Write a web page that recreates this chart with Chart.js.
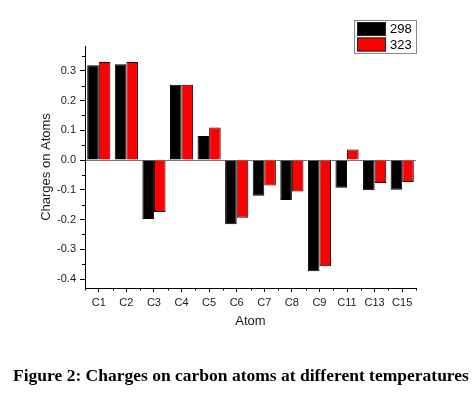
<!DOCTYPE html>
<html>
<head>
<meta charset="utf-8">
<script src="https://cdn.jsdelivr.net/npm/chart.js@4.4.1/dist/chart.umd.min.js"></script>
<style>
  body { margin: 0; background: #fff; }
  #wrap { position: relative; width: 473px; height: 397px; }
  #caption {
    position: absolute; left: 13px; top: 364px;
    font: bold 17.5px "Liberation Serif", "Times New Roman", serif;
    line-height: 22px; white-space: nowrap; color: #000;
  }
</style>
</head>
<body>
<div id="wrap">
  <canvas id="chart" width="473" height="397"></canvas>
  <div id="caption">Figure 2: Charges on carbon atoms at different temperatures</div>
</div>
<script>
const atoms = ["C1","C2","C3","C4","C5","C6","C7","C8","C9","C11","C13","C15"];
const temps = ["298", "323"];
const charges298 = [0.318, 0.322, -0.198, 0.253, 0.081, -0.216, -0.120, -0.134, -0.374, -0.093, -0.102, -0.100];
const charges323 = [0.329, 0.329, -0.175, 0.253, 0.109, -0.194, -0.086, -0.106, -0.357, 0.035, -0.077, -0.074];
const yTicks = [-0.4, -0.3, -0.2, -0.1, 0.0, 0.1, 0.2, 0.3];
const yMinorTicks = [-0.35, -0.25, -0.15, -0.05, 0.05, 0.15, 0.25, 0.35];

const FONT = "'Liberation Sans', Arial, sans-serif";

// minor ticks + boxed legend, drawn after the chart
const extras = {
  id: "extras",
  afterDraw(chart) {
    const ctx = chart.ctx;
    const { x, y } = chart.scales;
    const area = chart.chartArea;
    ctx.save();
    ctx.strokeStyle = "#000";
    ctx.lineWidth = 1;
    ctx.beginPath();
    yMinorTicks.forEach(v => {
      const py = Math.round(y.getPixelForValue(v)) + 0.5;
      ctx.moveTo(area.left - 3, py);
      ctx.lineTo(area.left, py);
    });
    for (let i = 0; i <= atoms.length; i++) {
      const px = Math.round(x.getPixelForValue(i - 0.5)) + 0.5;
      ctx.moveTo(px, area.bottom);
      ctx.lineTo(px, area.bottom + 2.5);
    }
    ctx.stroke();

    // legend
    const right = area.right;
    const left = right - 62;
    const top = 20;
    ctx.strokeStyle = "#888";
    ctx.strokeRect(left + 0.5, top + 0.5, 62, 33);
    chart.data.datasets.forEach((ds, i) => {
      const sy = top + 2 + i * 15.5;
      ctx.fillStyle = ds.backgroundColor;
      ctx.fillRect(left + 3, sy, 29, 14);
      ctx.strokeStyle = "#222";
      ctx.strokeRect(left + 3.5, sy + 0.5, 28, 13);
      ctx.fillStyle = "#000";
      ctx.font = "13px " + FONT;
      ctx.textBaseline = "middle";
      ctx.textAlign = "left";
      ctx.fillText(ds.label, left + 36, sy + 7.5);
    });
    ctx.restore();
  }
};

new Chart(document.getElementById("chart"), {
  type: "bar",
  data: {
    labels: atoms,
    datasets: [
      { label: temps[0], data: charges298, backgroundColor: "#000000", borderColor: "#000", borderWidth: 1 },
      { label: temps[1], data: charges323, backgroundColor: "#ff0000", borderColor: "#1a0000", borderWidth: 1 }
    ]
  },
  options: {
    responsive: false,
    animation: false,
    layout: { padding: { left: 0, right: 57, top: 46, bottom: 64 } },
    datasets: { bar: { categoryPercentage: 0.84, barPercentage: 1.0 } },
    plugins: { legend: { display: false }, tooltip: { enabled: false } },
    scales: {
      x: {
        offset: true,
        grid: { offset: false, drawOnChartArea: false, tickLength: 4, tickColor: "#000" },
        border: { color: "#000", width: 1 },
        ticks: { color: "#1a1a1a", font: { family: FONT, size: 11 }, padding: 4, autoSkip: false, maxRotation: 0 },
        title: { display: true, text: "Atom", color: "#1a1a1a", font: { family: FONT, size: 13 }, padding: { top: 0, bottom: 4 } },
        afterFit(scale) { scale.height = 45; }
      },
      y: {
        min: -0.43,
        max: 0.383,
        afterBuildTicks(scale) { scale.ticks = yTicks.map(v => ({ value: v })); },
        grid: {
          color: c => (c.tick && Math.abs(c.tick.value) < 1e-9) ? "#777" : "rgba(0,0,0,0)",
          tickColor: "#000",
          tickLength: 5
        },
        border: { color: "#000", width: 1 },
        ticks: { color: "#1a1a1a", font: { family: FONT, size: 11 }, padding: 4, callback: v => Number(v).toFixed(1) },
        title: { display: true, text: "Charges on Atoms", color: "#1a1a1a", font: { family: FONT, size: 13 }, padding: { top: 39, bottom: 0 } },
        afterFit(scale) { scale.width = 85; }
      }
    }
  },
  plugins: [extras]
});
</script>
</body>
</html>
